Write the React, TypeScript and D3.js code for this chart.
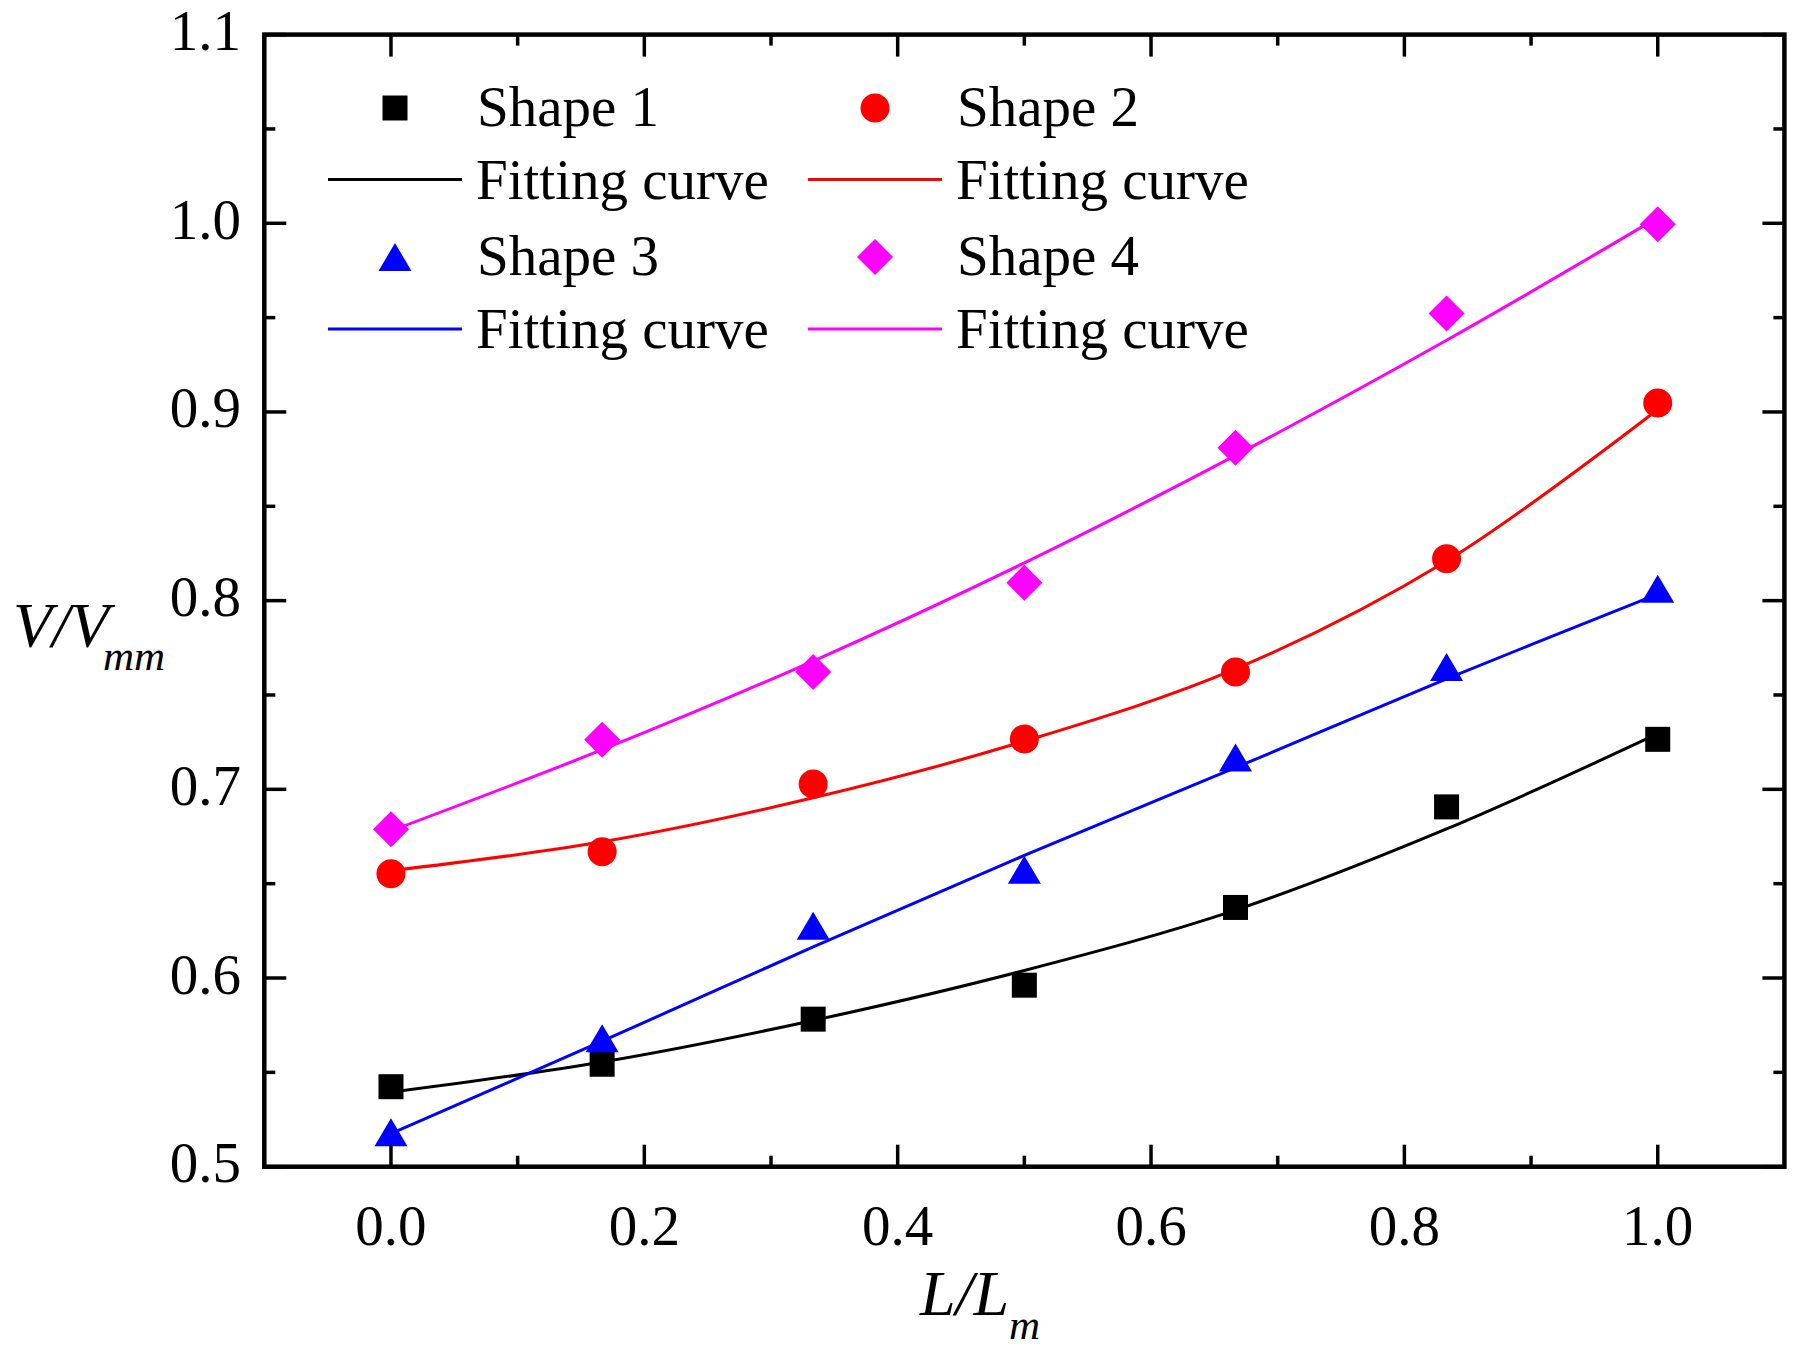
import * as d3 from "d3";

// x positions of the measured points (L/Lm)
const xValues = [0, 0.1667, 0.3333, 0.5, 0.6667, 0.8333, 1.0];

// measured V/Vmm
const shape1 = [0.5424, 0.5543, 0.5782, 0.5962, 0.6374, 0.6907, 0.7265];
const shape2 = [0.6553, 0.6669, 0.7028, 0.7267, 0.7622, 0.8222, 0.9047];
const shape3 = [0.5182, 0.5681, 0.6277, 0.6574, 0.7169, 0.7648, 0.8063];
const shape4 = [0.6788, 0.7263, 0.7622, 0.8095, 0.881, 0.9522, 0.9995];

// fitting curves read at the same x positions
const fit1 = [0.5395, 0.5555, 0.5775, 0.604, 0.636, 0.679, 0.7295];
const fit2 = [0.6569, 0.6722, 0.6955, 0.7255, 0.7638, 0.821, 0.9013];
const fit3 = [0.5175, 0.5665, 0.6165, 0.665, 0.7115, 0.7585, 0.8035];
const fit4 = [0.678, 0.721, 0.768, 0.82, 0.877, 0.938, 1.003];

const seriesNames = ["Shape 1", "Shape 2", "Shape 3", "Shape 4"];
const seriesColors = ["#000000", "#ff0000", "#0000ff", "#ff00ff"];
const seriesSymbols = ["square", "circle", "triangle", "diamond"];

const xTicks = [0, 0.2, 0.4, 0.6, 0.8, 1.0];
const xMinorTicks = [0.1, 0.3, 0.5, 0.7, 0.9];
const yTicks = [0.5, 0.6, 0.7, 0.8, 0.9, 1.0, 1.1];
const yMinorTicks = [0.55, 0.65, 0.75, 0.85, 0.95, 1.05];

const W = 1801;
const H = 1360;
const FONT = "'Liberation Serif', 'Times New Roman', serif";

// draws a marker centred on (cx, cy)
const markerPath = (kind: string, cx: number, cy: number) => {
    const p = d3.path();
    if (kind === "square") {
        p.rect(cx - 12.5, cy - 12.5, 25, 25);
    } else if (kind === "circle") {
        p.arc(cx, cy, 14.5, 0, Math.PI * 2);
    } else if (kind === "triangle") {
        p.moveTo(cx, cy - 14);
        p.lineTo(cx + 16.5, cy + 14);
        p.lineTo(cx - 16.5, cy + 14);
        p.closePath();
    } else {
        p.moveTo(cx, cy - 18);
        p.lineTo(cx + 18, cy);
        p.lineTo(cx, cy + 18);
        p.lineTo(cx - 18, cy);
        p.closePath();
    }
    return p.toString();
};

const App = () => {
    const plot = { left: 264.3, right: 1784.4, top: 34.6, bottom: 1166.7 };

    const x = d3.scaleLinear().domain([-0.1, 1.1]).range([plot.left, plot.right]);
    const y = d3.scaleLinear().domain([0.5, 1.1]).range([plot.bottom, plot.top]);

    const points = [shape1, shape2, shape3, shape4];
    const fits = [fit1, fit2, fit3, fit4];

    const line = d3
        .line<number>()
        .x((_, i) => x(xValues[i]))
        .y((d) => y(d))
        .curve(d3.curveCatmullRom.alpha(0.5));

    const major = 22;
    const minor = 11;

    // legend layout
    const legendCols = [395, 875];
    const legendBase = [126, 198.5, 275, 348];

    return (
        <svg width={W} height={H} style={{ position: "absolute", left: 0, top: 0, background: "#fff" }}>
            <rect x={0} y={0} width={W} height={H} fill="#fff" />

            {/* fitting curves */}
            {fits.map((f, s) => (
                <path key={`fit${s}`} d={line(f) ?? ""} fill="none" stroke={seriesColors[s]} strokeWidth={3} />
            ))}

            {/* measured points */}
            {points.map((pts, s) =>
                pts.map((v, i) => (
                    <path key={`m${s}-${i}`} d={markerPath(seriesSymbols[s], x(xValues[i]), y(v))} fill={seriesColors[s]} />
                ))
            )}

            {/* ticks on all four sides, pointing inward */}
            <g stroke="#000" strokeWidth={3.5}>
                {xTicks.map((t) => (
                    <g key={`xt${t}`}>
                        <line x1={x(t)} x2={x(t)} y1={plot.bottom} y2={plot.bottom - major} />
                        <line x1={x(t)} x2={x(t)} y1={plot.top} y2={plot.top + major} />
                    </g>
                ))}
                {xMinorTicks.map((t) => (
                    <g key={`xm${t}`}>
                        <line x1={x(t)} x2={x(t)} y1={plot.bottom} y2={plot.bottom - minor} />
                        <line x1={x(t)} x2={x(t)} y1={plot.top} y2={plot.top + minor} />
                    </g>
                ))}
                {yTicks.map((t) => (
                    <g key={`yt${t}`}>
                        <line x1={plot.left} x2={plot.left + major} y1={y(t)} y2={y(t)} />
                        <line x1={plot.right} x2={plot.right - major} y1={y(t)} y2={y(t)} />
                    </g>
                ))}
                {yMinorTicks.map((t) => (
                    <g key={`ym${t}`}>
                        <line x1={plot.left} x2={plot.left + minor} y1={y(t)} y2={y(t)} />
                        <line x1={plot.right} x2={plot.right - minor} y1={y(t)} y2={y(t)} />
                    </g>
                ))}
            </g>

            {/* frame */}
            <rect
                x={plot.left}
                y={plot.top}
                width={plot.right - plot.left}
                height={plot.bottom - plot.top}
                fill="none"
                stroke="#000"
                strokeWidth={4.5}
            />

            {/* tick labels */}
            <g fontFamily={FONT} fontSize={57} fill="#000">
                {xTicks.map((t) => (
                    <text key={`xl${t}`} x={x(t)} y={1245} textAnchor="middle">
                        {d3.format(".1f")(t)}
                    </text>
                ))}
                {yTicks.map((t) => (
                    <text key={`yl${t}`} x={241} y={y(t) + 15.5} textAnchor="end">
                        {d3.format(".1f")(t)}
                    </text>
                ))}
            </g>

            {/* axis titles */}
            <text x={920} y={1315} fontFamily={FONT} fontStyle="italic" fontSize={64}>
                L/L
                <tspan fontSize={43} dy={24}>m</tspan>
            </text>
            <text x={13} y={647} fontFamily={FONT} fontStyle="italic" fontSize={64}>
                V/V
                <tspan fontSize={43} dy={23} dx={-6}>mm</tspan>
            </text>

            {/* legend */}
            <g fontFamily={FONT} fontSize={57}>
                {seriesNames.map((name, s) => {
                    const col = s % 2;
                    const row = Math.floor(s / 2) * 2;
                    const cx = legendCols[col];
                    const base = legendBase[row];
                    const lineBase = legendBase[row + 1];
                    return (
                        <g key={`lg${s}`}>
                            <path d={markerPath(seriesSymbols[s], cx, base - 18)} fill={seriesColors[s]} />
                            <text x={cx + 82} y={base}>{name}</text>
                            <line x1={cx - 67} x2={cx + 67} y1={lineBase - 19} y2={lineBase - 19} stroke={seriesColors[s]} strokeWidth={3} />
                            <text x={cx + 81} y={lineBase}>Fitting curve</text>
                        </g>
                    );
                })}
            </g>
        </svg>
    );
};

export default App;
